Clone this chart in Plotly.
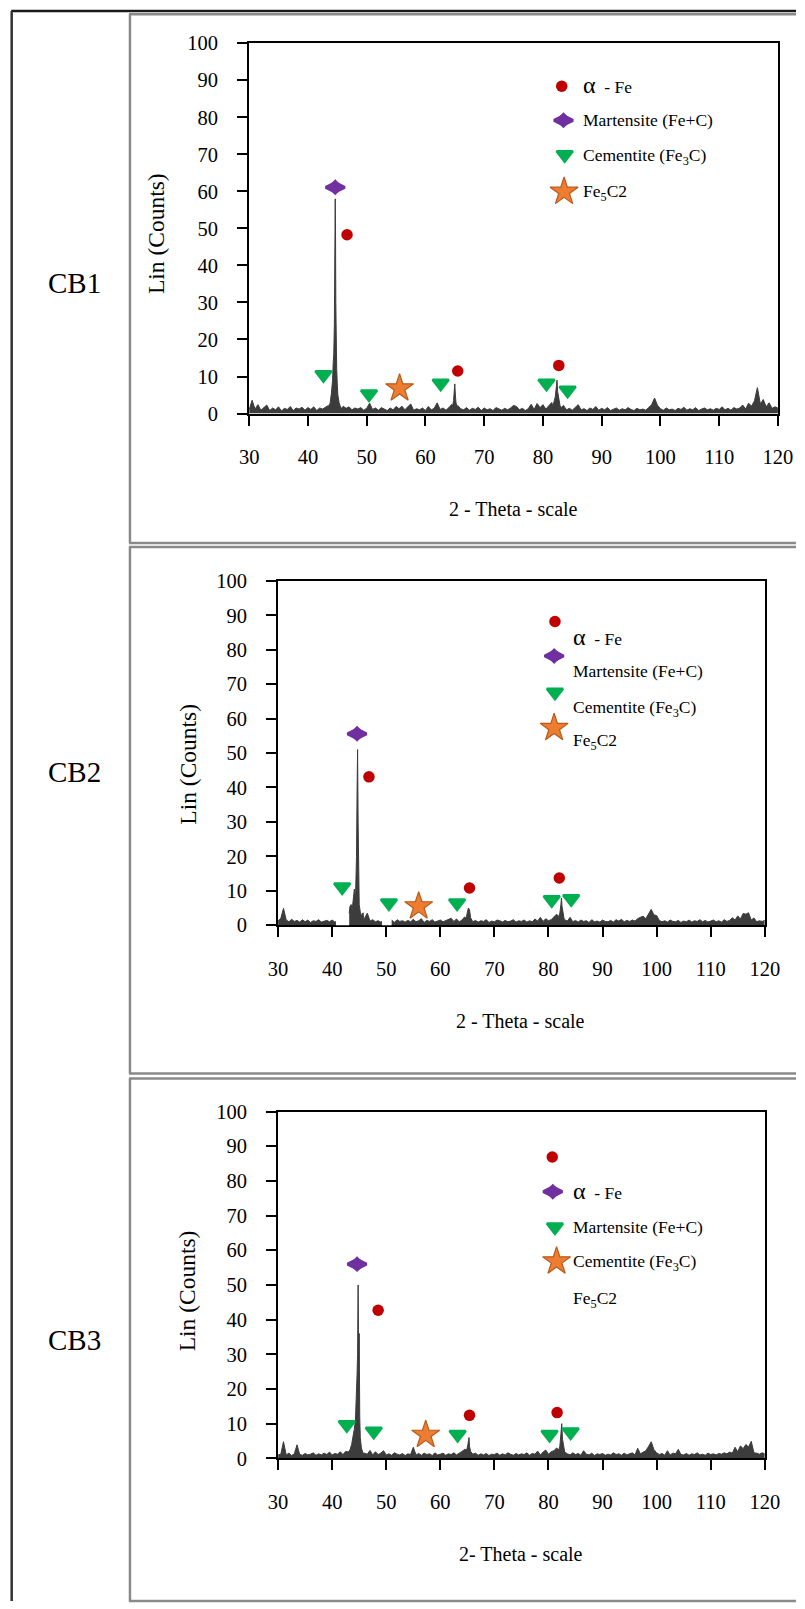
import numpy as np
import plotly.graph_objects as go

# figure canvas; the sheet geometry below is given in sheet pixels and
# mapped onto this canvas by px_x() / px_y()
W, H = 811, 1612
SX, OX = 0.971, 7.8     # sheet x = SX * figure x + OX
SY, OY = 0.987, 10.7    # sheet y = SY * figure y + OY
SERIF = "Liberation Serif, Times New Roman, serif"

# ---------------------------------------------------------------- scan data
# survey scans, 0.5 deg step from 30 to 120 deg (2-theta)
theta_grid = np.arange(30.0, 120.0 + 1e-9, 0.5)

cb1_counts = [
    1.0, 3.6, 1.2, 2.4, 0.9, 1.6, 2.3, 0.8, 1.5, 1.0,
    1.8, 0.7, 1.4, 1.1, 1.9, 0.8, 1.5, 1.2, 1.7, 0.9,
    1.6, 1.1, 1.8, 0.8, 1.5, 1.2, 1.7, 2.2, 4.0, 12.0,
    8.0, 3.0, 2.0, 1.4, 1.8, 1.0, 1.5, 1.2, 1.6, 0.9,
    1.4, 2.8, 1.1, 1.5, 0.9, 1.6, 1.2, 0.8, 1.5, 1.0,
    1.9, 1.3, 2.0, 1.0, 1.8, 2.6, 0.9, 1.3, 1.0, 1.5,
    0.8, 1.9, 1.0, 1.4, 2.9, 1.1, 1.5, 0.9, 1.6, 2.5,
    7.0, 2.2, 1.3, 1.0, 1.6, 0.9, 1.4, 1.1, 1.7, 0.8,
    1.5, 1.0, 1.3, 0.8, 1.6, 1.2, 0.9, 1.4, 1.0, 1.5,
    2.2, 1.9, 1.0, 1.4, 0.8, 1.3, 2.5, 1.1, 2.7, 1.6,
    2.4, 1.2, 2.0, 3.0, 8.0, 2.8, 1.5, 2.2, 1.0, 1.4,
    0.9, 1.6, 2.4, 1.0, 1.3, 0.8, 1.5, 1.1, 1.9, 0.9,
    1.4, 1.0, 1.6, 0.8, 1.2, 1.5, 0.9, 1.3, 1.0, 1.6,
    1.1, 0.8, 1.4, 1.0, 1.2, 0.9, 1.6, 2.4, 4.2, 2.2,
    1.3, 0.9, 1.5, 1.0, 1.2, 0.8, 1.4, 1.1, 1.7, 0.9,
    1.3, 1.0, 1.6, 0.8, 1.2, 1.5, 1.0, 1.3, 0.9, 1.4,
    1.1, 1.8, 1.0, 1.4, 0.9, 1.6, 1.2, 1.5, 2.3, 1.2,
    2.8, 2.0, 3.4, 7.0, 2.6, 3.8, 1.8, 2.9, 1.4, 1.8,
    1.5,
]
# fine steps across the reflections
cb1_peak_theta = [43.6, 43.8, 44.0, 44.2, 44.3, 44.4, 44.5, 44.6, 44.65, 44.7,
                  44.75, 44.8, 44.9, 45.0, 45.1, 45.3, 45.5, 45.8,
                  64.6, 64.8, 64.9, 65.0, 65.1, 65.2, 65.4,
                  81.7, 81.9, 82.1, 82.3, 82.4, 82.5, 82.7, 82.9, 83.1]
cb1_peak_counts = [1.8, 3.0, 5.5, 9.0, 13.5, 16.0, 24.0, 47.0, 58.0, 49.0,
                   30.0, 18.0, 12.0, 8.0, 5.0, 3.0, 2.0, 1.2,
                   1.8, 3.5, 6.0, 8.0, 5.0, 3.0, 1.8,
                   2.0, 3.2, 4.5, 7.5, 9.0, 6.0, 3.5, 2.2, 1.6]

cb2_counts = [
    1.2, 2.0, 4.9, 1.5, 1.0, 1.7, 1.1, 1.4, 0.9, 1.6,
    1.0, 1.5, 0.8, 1.3, 1.1, 1.6, 0.9, 1.2, 1.4, 1.0,
    1.5, 0.9, 1.2, 1.0, 1.4, 1.1, 1.4, 5.8, 10.0, 20.0,
    12.0, 3.8, 2.0, 3.5, 1.2, 1.6, 1.0, 1.3, 0.9, 1.4,
    1.1, 1.0, 1.5, 0.8, 1.6, 1.1, 1.3, 0.9, 1.4, 1.0,
    1.7, 1.0, 1.3, 1.9, 0.8, 1.4, 1.1, 1.6, 0.9, 1.2,
    1.5, 1.0, 1.3, 1.7, 2.0, 1.1, 1.8, 1.0, 1.5, 2.4,
    4.0, 2.0, 1.0, 1.4, 0.9, 1.3, 1.1, 1.6, 0.8, 1.2,
    1.0, 1.5, 1.3, 0.9, 1.4, 1.0, 1.2, 1.6, 0.9, 1.3,
    1.1, 1.5, 0.9, 1.3, 1.0, 1.8, 1.2, 2.3, 1.1, 1.9,
    1.3, 1.6, 2.4, 3.2, 7.0, 2.5, 1.6, 1.2, 2.3, 1.0,
    1.4, 0.9, 1.5, 1.1, 1.3, 0.8, 1.6, 1.0, 1.2, 0.9,
    1.5, 1.1, 1.0, 1.4, 0.9, 1.6, 1.2, 1.7, 1.0, 1.4,
    1.1, 1.5, 1.2, 1.9, 2.3, 2.6, 1.9, 3.2, 4.6, 3.0,
    2.8, 1.4, 1.0, 1.3, 0.9, 1.5, 1.1, 1.0, 1.4, 0.8,
    1.2, 1.0, 1.5, 0.9, 1.3, 1.1, 1.6, 1.0, 1.4, 0.9,
    1.2, 1.5, 1.0, 1.3, 0.9, 1.6, 1.1, 1.4, 2.2, 1.5,
    2.7, 1.8, 3.4, 3.2, 3.6, 1.5, 2.1, 1.0, 1.3, 1.1,
    1.4,
]
cb2_peak_theta = [43.3, 43.5, 43.7, 43.9, 44.1, 44.3, 44.5, 44.6, 44.7, 44.8,
                  44.9, 45.0, 45.2, 45.5, 45.7, 45.9,
                  64.8, 65.0, 65.2, 65.4, 65.6,
                  81.9, 82.1, 82.3, 82.4, 82.5, 82.7, 82.9]
cb2_peak_counts = [5.5, 6.0, 4.5, 9.0, 10.5, 7.0, 20.0, 38.0, 51.0, 30.0,
                   12.0, 6.0, 3.8, 2.5, 3.6, 1.5,
                   2.0, 3.8, 5.0, 4.5, 2.2,
                   2.5, 3.5, 6.0, 7.9, 5.5, 3.0, 1.8]

cb3_counts = [
    1.0, 1.2, 4.8, 1.0, 1.5, 0.8, 1.3, 3.9, 1.1, 0.9,
    1.4, 1.0, 1.2, 1.6, 0.9, 1.3, 1.0, 1.5, 1.1, 1.8,
    1.0, 1.4, 1.2, 1.9, 1.1, 2.0, 2.3, 3.0, 8.0, 20.0,
    30.0, 6.0, 1.5, 1.2, 2.3, 1.0, 1.9, 1.1, 1.5, 2.2,
    1.0, 1.3, 0.9, 1.6, 1.2, 1.0, 1.4, 0.8, 1.3, 1.1,
    3.2, 1.0, 1.4, 0.9, 1.5, 1.1, 1.3, 0.8, 1.6, 1.0,
    1.2, 1.5, 0.9, 1.3, 1.1, 1.6, 1.0, 1.4, 2.0, 2.6,
    5.0, 2.2, 1.2, 1.5, 0.9, 1.3, 1.0, 1.4, 0.8, 1.2,
    1.1, 1.5, 0.9, 1.3, 1.0, 1.6, 1.2, 0.9, 1.4, 1.0,
    1.3, 1.1, 1.6, 0.9, 1.4, 1.2, 2.1, 1.0, 1.8, 2.4,
    1.2, 1.9, 2.2, 3.0, 8.0, 3.0, 1.5, 1.3, 1.0, 1.6,
    1.1, 1.4, 0.9, 2.2, 1.2, 1.0, 1.5, 0.8, 1.3, 1.1,
    1.4, 0.9, 1.2, 1.0, 1.6, 1.1, 1.3, 0.9, 1.5, 1.0,
    1.2, 1.6, 1.0, 2.9, 1.3, 1.8, 2.2, 3.4, 4.8, 2.5,
    1.6, 1.1, 1.4, 0.9, 2.2, 1.0, 1.5, 1.3, 2.6, 1.1,
    1.0, 1.4, 0.9, 1.3, 1.1, 1.6, 1.0, 1.2, 0.9, 1.5,
    1.1, 1.3, 1.0, 1.4, 1.2, 1.6, 1.3, 1.8, 1.5, 3.2,
    1.9, 3.6, 2.8, 4.0, 3.3, 4.9, 1.6, 1.5, 1.2, 1.6,
    1.3,
]
cb3_peak_theta = [43.0, 43.3, 43.6, 43.9, 44.1, 44.3, 44.5, 44.6, 44.7, 44.8,
                  44.9, 45.0, 45.1, 45.2, 45.4, 45.7,
                  64.9, 65.1, 65.3, 65.4, 65.6,
                  81.9, 82.1, 82.3, 82.45, 82.6, 82.8, 83.0]
cb3_peak_counts = [1.8, 2.5, 4.0, 6.5, 8.5, 11.0, 17.0, 24.0, 30.0, 50.0,
                   28.0, 36.0, 12.0, 6.0, 3.0, 1.5,
                   2.5, 4.0, 6.0, 3.5, 2.0,
                   2.4, 3.5, 7.0, 10.0, 5.5, 3.0, 1.8]

# ---------------------------------------------------------- phase markers
cb1_fe_theta, cb1_fe_counts = [46.66, 65.5, 82.7], [48.3, 11.5, 13.0]
cb1_mart_theta, cb1_mart_counts = [44.65], [61.1]
cb1_cem_theta = [42.65, 50.4, 62.6, 80.6, 84.2]
cb1_cem_counts = [10.5, 5.3, 8.2, 8.2, 6.3]
cb1_fe5c2_theta, cb1_fe5c2_counts = [55.6], [6.8]

cb2_fe_theta, cb2_fe_counts = [46.8, 65.4, 82.0], [43.1, 10.8, 13.7]
cb2_mart_theta, cb2_mart_counts = [44.6], [55.6]
cb2_cem_theta = [41.85, 50.5, 63.1, 80.6, 84.2]
cb2_cem_counts = [11.1, 6.45, 6.45, 7.4, 7.7]
cb2_fe5c2_theta, cb2_fe5c2_counts = [56.0], [5.5]

cb3_fe_theta, cb3_fe_counts = [48.5, 65.4, 81.6], [42.7, 12.4, 13.2]
cb3_mart_theta, cb3_mart_counts = [44.6], [56.0]
cb3_cem_theta = [42.7, 47.7, 63.2, 80.2, 84.1]
cb3_cem_counts = [9.7, 7.8, 6.9, 6.9, 7.6]
cb3_fe5c2_theta, cb3_fe5c2_counts = [57.3], [6.8]

# ------------------------------------------------------------- key labels
phase_labels = [
    '<span style="font-size:24px">α</span>\u00a0\u00a0- Fe',
    "Martensite (Fe+C)",
    "Cementite (Fe<sub>3</sub>C)",
    "Fe<sub>5</sub>C2",
]
sample_names = ["CB1", "CB2", "CB3"]
x_titles = ["2 - Theta - scale", "2 - Theta - scale", "2- Theta - scale"]
y_title = "Lin (Counts)"

# ------------------------------------------------------------ sheet layout
# sheet-pixel geometry of each panel: plot box, titles, key placement
panels_px = [
    dict(box=(247.4, 777.2, 43.0, 413.5), ytitle=(154, 233), xtitle=(512, 509.5),
         name=(72, 283), cell=(14, 543),
         key_marks=[(83.2, 88.4), (83.5, 79.2), (83.7, 69.9), (83.6, 59.9)],
         key_text_x=86.5, key_text_y=[88.8, 79.2, 69.3, 59.7]),
    dict(box=(276.4, 764.0, 581.0, 925.5), ytitle=(186, 764), xtitle=(519.7, 1021),
         name=(72, 772), cell=(547, 1074),
         key_marks=[(81.2, 88.2), (81.05, 78.2), (81.2, 67.7), (81.05, 57.3)],
         key_text_x=84.2, key_text_y=[83.8, 73.9, 63.0, 53.3]),
    dict(box=(276.4, 764.0, 1112.0, 1459.0), ytitle=(186, 1291), xtitle=(519.7, 1554.5),
         name=(72, 1341), cell=(1079, 1607),
         key_marks=[(80.7, 86.9), (80.8, 76.9), (81.2, 66.7), (81.5, 56.8)],
         key_text_x=84.2, key_text_y=[77.1, 66.6, 56.4, 45.8]),
]

scans = [
    (cb1_counts, cb1_peak_theta, cb1_peak_counts),
    (cb2_counts, cb2_peak_theta, cb2_peak_counts),
    (cb3_counts, cb3_peak_theta, cb3_peak_counts),
]
phase_marks = [
    [(cb1_fe_theta, cb1_fe_counts), (cb1_mart_theta, cb1_mart_counts),
     (cb1_cem_theta, cb1_cem_counts), (cb1_fe5c2_theta, cb1_fe5c2_counts)],
    [(cb2_fe_theta, cb2_fe_counts), (cb2_mart_theta, cb2_mart_counts),
     (cb2_cem_theta, cb2_cem_counts), (cb2_fe5c2_theta, cb2_fe5c2_counts)],
    [(cb3_fe_theta, cb3_fe_counts), (cb3_mart_theta, cb3_mart_counts),
     (cb3_cem_theta, cb3_cem_counts), (cb3_fe5c2_theta, cb3_fe5c2_counts)],
]

PURPLE = "#7030A0"
# marker layers per phase: alpha-Fe, martensite (two stacked diamonds give
# the broad rounded lozenge), cementite, Fe5C2
phase_style = [
    [dict(symbol="circle", size=11.5, color="#C00000", line=dict(width=0))],
    [dict(symbol="diamond-wide", size=13.5, color=PURPLE, line=dict(width=3, color=PURPLE)),
     dict(symbol="diamond", size=9.5, color=PURPLE, line=dict(width=2.5, color=PURPLE))],
    [dict(symbol="triangle-down", size=14, color="#00B050",
          line=dict(width=2.5, color="#00B050"))],
    [dict(symbol="star", size=21, color="#ED7D31",
          line=dict(width=1.2, color="#B85A1B"))],
]

TRACE_COLOR = "#3c3c3c"


def px_x(v):
    """sheet x pixel -> paper fraction"""
    return min(max((v - OX) / SX / W, 0.0), 1.0)


def px_y(v):
    """sheet y pixel -> paper fraction"""
    return min(max(1 - (v - OY) / SY / H, 0.0), 1.0)


def merge_scan(counts, peak_theta, peak_counts):
    grid = theta_grid
    vals = np.asarray(counts, float)
    pt = np.asarray(peak_theta, float)
    pc = np.asarray(peak_counts, float)
    # peak clusters replace the coarse grid inside their span
    keep = np.ones(len(grid), bool)
    splits = np.where(np.diff(pt) > 1.0)[0] + 1
    for seg in np.split(pt, splits):
        keep &= ~((grid >= seg.min() - 1e-9) & (grid <= seg.max() + 1e-9))
    x = np.concatenate([grid[keep], pt])
    y = np.concatenate([vals[keep], pc])
    order = np.argsort(x, kind="stable")
    return x[order], y[order]


def hline(x0, x1, y, color, width):
    return dict(type="line", xref="paper", yref="paper", x0=px_x(x0), x1=px_x(x1),
                y0=px_y(y), y1=px_y(y), line=dict(color=color, width=width),
                layer="above")


def vline(x, y0, y1, color, width):
    return dict(type="line", xref="paper", yref="paper", x0=px_x(x), x1=px_x(x),
                y0=px_y(y0), y1=px_y(y1), line=dict(color=color, width=width),
                layer="above")


fig = go.Figure()
annotations = []
shapes = []

for i, p in enumerate(panels_px):
    sfx = "" if i == 0 else str(i + 1)
    xa, ya = "x" + sfx, "y" + sfx
    x0, x1, yt, yb = p["box"]

    axis_common = dict(
        showline=True, linewidth=2, linecolor="black", mirror=True,
        ticks="outside", ticklen=10, tickwidth=1.5, tickcolor="black",
        showgrid=False, zeroline=False,
        tickfont=dict(family=SERIF, size=20.5, color="black"),
    )
    fig.layout["xaxis" + sfx] = dict(
        domain=[px_x(x0), px_x(x1)], range=[30, 120], dtick=10, tick0=30,
        anchor=ya, ticklabelstandoff=14, **axis_common)
    fig.layout["yaxis" + sfx] = dict(
        domain=[px_y(yb), px_y(yt)], range=[0, 100], dtick=10, tick0=0,
        anchor=xa, ticklabelstandoff=15, **axis_common)

    # diffraction pattern
    sx, sy = merge_scan(*scans[i])
    fig.add_trace(go.Scatter(
        x=sx, y=sy, xaxis=xa, yaxis=ya, mode="lines",
        line=dict(color=TRACE_COLOR, width=1), fill="tozeroy",
        fillcolor=TRACE_COLOR, showlegend=False, hoverinfo="skip"))

    # phase identification marks on the reflections
    for (tx, ty), layers in zip(phase_marks[i], phase_style):
        for st in layers:
            fig.add_trace(go.Scatter(
                x=tx, y=ty, xaxis=xa, yaxis=ya, mode="markers",
                marker=st, showlegend=False, cliponaxis=False))

    # in-plot key
    for (kx, ky), layers in zip(p["key_marks"], phase_style):
        for st in layers:
            fig.add_trace(go.Scatter(
                x=[kx], y=[ky], xaxis=xa, yaxis=ya, mode="markers",
                marker=st, showlegend=False, cliponaxis=False))
    for label, ty in zip(phase_labels, p["key_text_y"]):
        annotations.append(dict(
            x=p["key_text_x"], y=ty, xref=xa, yref=ya, text=label,
            showarrow=False, xanchor="left", yanchor="middle",
            font=dict(family=SERIF, size=17.5, color="black")))

    # axis titles and sample name
    annotations.append(dict(
        x=px_x(p["xtitle"][0]), y=px_y(p["xtitle"][1]), xref="paper", yref="paper",
        text=x_titles[i], showarrow=False, xanchor="center", yanchor="middle",
        font=dict(family=SERIF, size=20, color="black")))
    annotations.append(dict(
        x=px_x(p["ytitle"][0]), y=px_y(p["ytitle"][1]), xref="paper", yref="paper",
        text=y_title, textangle=-90, showarrow=False, xanchor="center",
        yanchor="middle", font=dict(family=SERIF, size=23.5, color="black")))
    annotations.append(dict(
        x=px_x(p["name"][0]), y=px_y(p["name"][1]), xref="paper", yref="paper",
        text=sample_names[i], showarrow=False, xanchor="center", yanchor="middle",
        font=dict(family=SERIF, size=29, color="black")))

    # table cell around the panel (open to the right edge)
    c0, c1 = p["cell"]
    shapes.append(hline(127, 900, c0, "#8a8a8a", 2.5))
    shapes.append(hline(127, 900, c1, "#8a8a8a", 2.5))
    shapes.append(vline(128, c0, c1, "#8a8a8a", 2.5))

# blanked stretches of the CB2 baseline
for lo, hi in [(40.7, 43.15), (49.2, 51.0)]:
    shapes.append(dict(
        type="rect", xref="x2", yref="y2", x0=lo, x1=hi, y0=-0.8, y1=3.4,
        fillcolor="white", line=dict(width=0), layer="above"))

# outer table rules
shapes.append(hline(9, 900, 5, "#1a1a1a", 2.5))
shapes.append(vline(9.5, 5, 1700, "#333333", 2.5))

fig.update_layout(
    width=W, height=H, margin=dict(l=0, r=0, t=0, b=0),
    paper_bgcolor="white", plot_bgcolor="white",
    annotations=annotations, shapes=shapes, showlegend=False,
    font=dict(family=SERIF, color="black"),
)

fig.write_html("out.html")
